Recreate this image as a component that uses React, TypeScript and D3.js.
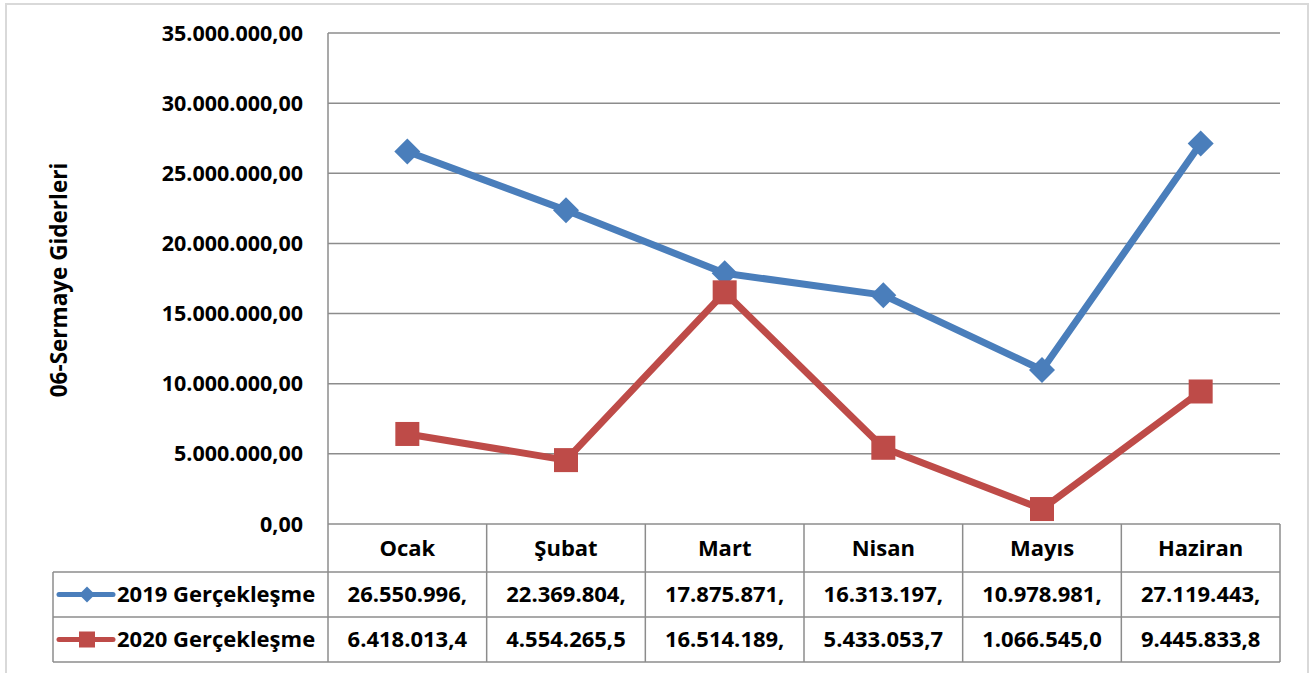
import React from 'react'
import * as d3 from 'd3'

const months = ['Ocak', 'Şubat', 'Mart', 'Nisan', 'Mayıs', 'Haziran']
const series2019 = [26550996, 22369804, 17875871, 16313197, 10978981, 27119443]
const series2020 = [6418013.4, 4554265.5, 16514189, 5433053.7, 1066545.0, 9445833.8]
const labels2019 = ['26.550.996,', '22.369.804,', '17.875.871,', '16.313.197,', '10.978.981,', '27.119.443,']
const labels2020 = ['6.418.013,4', '4.554.265,5', '16.514.189,', '5.433.053,7', '1.066.545,0', '9.445.833,8']
const yTicks = [0, 5000000, 10000000, 15000000, 20000000, 25000000, 30000000, 35000000]
const seriesNames = ['2019 Gerçekleşme', '2020 Gerçekleşme']

const BLUE = '#4a7ebb'
const RED = '#be4b48'
const GRID = '#8c8c8c'
const FONT = "'Open Sans', sans-serif"

const fmt = (v: number) => {
  const s = d3.format(',.2f')(v)
  return s.replace(/,/g, '#').replace('.', ',').replace(/#/g, '.')
}

export default function App() {
  const W = 1314
  const H = 673
  const left = 328
  const right = 1280
  const top = 33
  const zero = 524
  const rowH = 45
  const tableLeft = 53

  const x = d3.scaleBand().domain(months).range([left, right])
  const y = d3.scaleLinear().domain([0, 35000000]).range([zero, top])
  const cx = (m: string) => (x(m) as number) + x.bandwidth() / 2

  const line = d3
    .line<number>()
    .x((_, i) => cx(months[i]))
    .y((d) => y(d))

  const catTop = zero
  const row1 = 572
  const row2 = row1 + rowH
  const tableBottom = row2 + rowH

  const diamond = (px: number, py: number, r: number) =>
    `M${px},${py - r}L${px + r},${py}L${px},${py + r}L${px - r},${py}Z`

  return (
    <svg
      width={W}
      height={H}
      style={{ position: 'absolute', left: 0, top: 0, background: '#fff' }}
      fontFamily={FONT}
      fontWeight="bold"
    >
      <rect x={6} y={4} width={1302} height={H + 10} fill="#fff" stroke="#d9d9d9" strokeWidth={2} />

      {/* gridlines */}
      {yTicks.map((t) => (
        <line key={t} x1={left} x2={right} y1={y(t)} y2={y(t)} stroke={GRID} strokeWidth={1.5} />
      ))}
      <line x1={left} x2={left} y1={top} y2={tableBottom} stroke={GRID} strokeWidth={1.5} />

      {/* y labels */}
      {yTicks.map((t) => (
        <text key={t} x={303} y={y(t)} dy="0.35em" textAnchor="end" fontSize={21.5} fill="#000">
          {fmt(t)}
        </text>
      ))}
      <text
        transform={`translate(67,280) rotate(-90)`}
        textAnchor="middle"
        fontSize={22.5}
        fill="#000"
      >
        06-Sermaye Giderleri
      </text>

      {/* table */}
      <g stroke={GRID} strokeWidth={1.5} fill="none">
        <line x1={tableLeft} x2={right} y1={row1} y2={row1} />
        <line x1={tableLeft} x2={right} y1={row2} y2={row2} />
        <line x1={tableLeft} x2={right} y1={tableBottom} y2={tableBottom} />
        <line x1={tableLeft} x2={tableLeft} y1={row1} y2={tableBottom} />
        {months.map((m) => (
          <line key={m} x1={(x(m) as number) + x.bandwidth()} x2={(x(m) as number) + x.bandwidth()} y1={catTop} y2={tableBottom} />
        ))}
      </g>
      {months.map((m, i) => (
        <g key={m} fontSize={22} fill="#000" textAnchor="middle">
          <text x={cx(m)} y={(catTop + row1) / 2} dy="0.35em">{m}</text>
          <text x={cx(m)} y={(row1 + row2) / 2} dy="0.35em">{labels2019[i]}</text>
          <text x={cx(m)} y={(row2 + tableBottom) / 2} dy="0.35em">{labels2020[i]}</text>
        </g>
      ))}

      {/* legend keys */}
      <line x1={59} x2={113} y1={(row1 + row2) / 2} y2={(row1 + row2) / 2} stroke={BLUE} strokeWidth={5} strokeLinecap="round" />
      <path d={diamond(87, (row1 + row2) / 2, 8)} fill={BLUE} />
      <line x1={59} x2={113} y1={(row2 + tableBottom) / 2} y2={(row2 + tableBottom) / 2} stroke={RED} strokeWidth={5} strokeLinecap="round" />
      <rect x={79} y={(row2 + tableBottom) / 2 - 8} width={16} height={16} fill={RED} />
      <text x={117} y={(row1 + row2) / 2} dy="0.35em" fontSize={22} fill="#000">{seriesNames[0]}</text>
      <text x={117} y={(row2 + tableBottom) / 2} dy="0.35em" fontSize={22} fill="#000">{seriesNames[1]}</text>

      {/* series */}
      <path d={line(series2019) as string} fill="none" stroke={BLUE} strokeWidth={7} strokeLinejoin="round" />
      {series2019.map((v, i) => (
        <path key={i} d={diamond(cx(months[i]), y(v), 13)} fill={BLUE} />
      ))}
      <path d={line(series2020) as string} fill="none" stroke={RED} strokeWidth={7} strokeLinejoin="round" />
      {series2020.map((v, i) => (
        <rect key={i} x={cx(months[i]) - 12} y={y(v) - 12} width={24} height={24} fill={RED} />
      ))}
    </svg>
  )
}
